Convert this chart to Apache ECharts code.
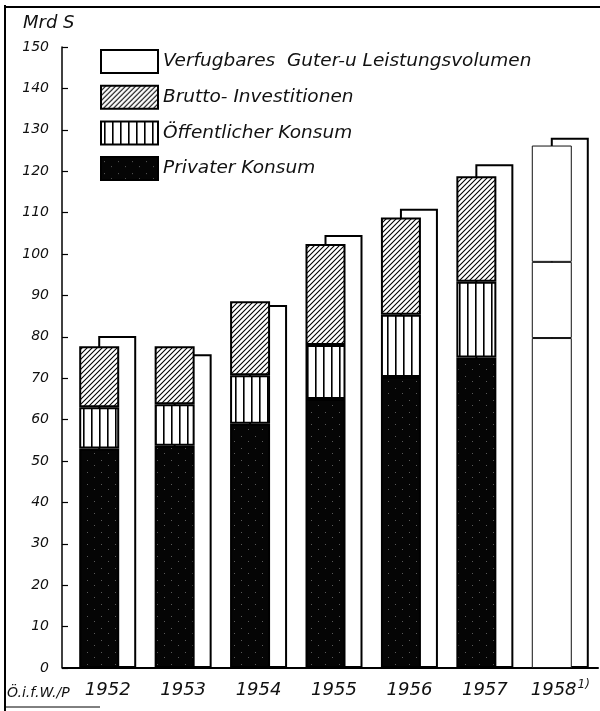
<!DOCTYPE html>
<html>
<head>
<meta charset="utf-8">
<script src="https://cdn.jsdelivr.net/npm/echarts@6/dist/echarts.min.js"></script>
<style>
html,body{margin:0;padding:0;background:#fff;}
#c{width:600px;height:711px;}
</style>
</head>
<body>
<div id="c"></div>
<script>
// ---- data (Mrd S) ----
const years = ['1952','1953','1954','1955','1956','1957','1958'];
const privaterKonsum = [53, 53.7, 59, 65, 70.3, 75, 79.7];
const oeffentlicherKonsum = [10, 10, 11.7, 13, 15, 18.3, 18.4];
const bruttoInvestitionen = [14.7, 14, 17.9, 24.4, 23.5, 25.5, 28.1];
const verfuegbaresVolumen = [80.2, 75.8, 87.7, 104.6, 110.9, 121.7, 128.1];
const yTicks = {min: 0, max: 150, interval: 10};
const names = ['Verfugbares  Guter-u Leistungsvolumen', 'Brutto- Investitionen', 'Öffentlicher Konsum', 'Privater Konsum'];

// ---- patterns ----
function hatch() {
  const s = 5, c = document.createElement('canvas'); c.width = c.height = s;
  const g = c.getContext('2d');
  g.fillStyle = '#fff'; g.fillRect(0, 0, s, s);
  g.strokeStyle = '#000'; g.lineWidth = 1.1; g.beginPath();
  g.moveTo(-1, s + 1); g.lineTo(s + 1, -1);
  g.moveTo(-1, 1); g.lineTo(1, -1);
  g.moveTo(s - 1, s + 1); g.lineTo(s + 1, s - 1);
  g.stroke();
  return c;
}
function vlines() {
  const c = document.createElement('canvas'); c.width = 8; c.height = 4;
  const g = c.getContext('2d');
  g.fillStyle = '#fff'; g.fillRect(0, 0, 8, 4);
  g.fillStyle = '#000'; g.fillRect(3, 0, 1.6, 4);
  return c;
}
function speckle() {
  const c = document.createElement('canvas'); c.width = 14; c.height = 12;
  const g = c.getContext('2d');
  g.fillStyle = '#050505'; g.fillRect(0, 0, 14, 12);
  g.fillStyle = '#5a5a5a'; g.fillRect(3, 4, 1, 1); g.fillRect(10, 9, 1, 1);
  return c;
}
const patHatch = {image: hatch(), repeat: 'repeat'};
const patV = {image: vlines(), repeat: 'repeat'};
const patDark = {image: speckle(), repeat: 'repeat'};

const lastIdx = years.length - 1;
function items(arr) {
  return arr.map((v, i) => i === lastIdx
    ? {value: v, itemStyle: {color: '#fff', borderColor: '#111', borderWidth: 1}}
    : v);
}

const FONT = 'DejaVu Sans';
const chart = echarts.init(document.getElementById('c'), null, {renderer: 'canvas'});
const barGap = '-52.5%';
const stackStyle = (col) => ({color: col, borderColor: '#000', borderWidth: 2});

chart.setOption({
  animation: false,
  backgroundColor: '#fff',
  grid: {left: 70, right: 2, top: 47, bottom: 43, containLabel: false},
  legend: {
    data: names,
    orient: 'vertical',
    left: 100, top: 49,
    padding: 0,
    itemWidth: 57, itemHeight: 23, itemGap: 10.7,
    icon: 'rect',
    selectedMode: false,
    textStyle: {fontFamily: FONT, fontStyle: 'italic', fontSize: 18.5, color: '#111', lineHeight: 14, padding: [8, 0, 0, 0]}
  },
  xAxis: {
    type: 'category',
    data: years,
    axisLine: {show: true, lineStyle: {color: '#000', width: 2}},
    axisTick: {show: false},
    splitLine: {show: false},
    axisLabel: {
      margin: 11,
      interval: 0,
      formatter: (v) => v === '1958' ? '{a|1958}{s|1)}' : '{a|' + v + '}',
      rich: {
        a: {fontFamily: FONT, fontStyle: 'italic', fontSize: 18, color: '#111', lineHeight: 22},
        s: {fontFamily: FONT, fontStyle: 'italic', fontSize: 12, color: '#111', verticalAlign: 'top', lineHeight: 22, padding: [0, 0, 8, 1]}
      }
    }
  },
  yAxis: {
    type: 'value',
    min: yTicks.min, max: yTicks.max, interval: yTicks.interval,
    offset: 8,
    axisLine: {show: true, lineStyle: {color: '#000', width: 1.5}},
    axisTick: {show: true, inside: true, length: 6, lineStyle: {color: '#000', width: 1.2}},
    splitLine: {show: false},
    axisLabel: {margin: 13, fontFamily: FONT, fontStyle: 'italic', fontSize: 14, color: '#111'}
  },
  series: [
    {name: names[3], type: 'bar', stack: 's', barWidth: 40, barGap: barGap, z: 3,
     itemStyle: stackStyle(patDark), data: items(privaterKonsum)},
    {name: names[2], type: 'bar', stack: 's', barWidth: 40, barGap: barGap, z: 3,
     itemStyle: stackStyle(patV), data: items(oeffentlicherKonsum)},
    {name: names[1], type: 'bar', stack: 's', barWidth: 40, barGap: barGap, z: 3,
     itemStyle: stackStyle(patHatch), data: items(bruttoInvestitionen)},
    {name: names[0], type: 'bar', barWidth: 38, barGap: barGap, z: 2,
     itemStyle: {color: '#fff', borderColor: '#000', borderWidth: 2}, data: verfuegbaresVolumen}
  ],
  graphic: [
    {type: 'line', shape: {x1: 5, y1: 5, x2: 5, y2: 711}, style: {stroke: '#000', lineWidth: 2}},
    {type: 'line', shape: {x1: 5, y1: 7, x2: 600, y2: 7}, style: {stroke: '#000', lineWidth: 2}},
    {type: 'line', shape: {x1: 5, y1: 707, x2: 100, y2: 707}, style: {stroke: '#000', lineWidth: 1}},
    {type: 'line', shape: {x1: 62, y1: 668, x2: 71, y2: 668}, style: {stroke: '#000', lineWidth: 2}},
    {type: 'text', left: 23, top: 14, style: {text: 'Mrd S', fontFamily: FONT, fontStyle: 'italic', fontSize: 18, fill: '#111'}},
    {type: 'text', left: 7, top: 686, style: {text: 'Ö.i.f.W./P', fontFamily: FONT, fontStyle: 'italic', fontSize: 14, fill: '#111'}}
  ]
});
</script>
</body>
</html>
